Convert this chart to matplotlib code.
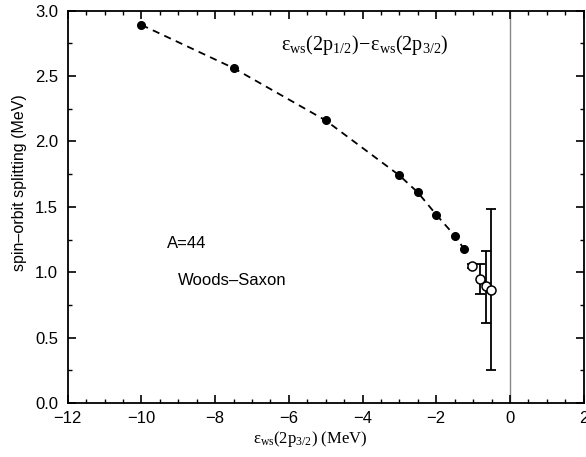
import matplotlib
matplotlib.use("Agg")
import matplotlib.pyplot as plt
from matplotlib.ticker import MultipleLocator, FormatStrFormatter

# single-particle energy of 2p3/2 (MeV) and the 2p spin-orbit splitting (MeV)
bound_e = [-10.0, -7.5, -5.0, -3.0, -2.5, -2.0, -1.5, -1.25]
bound_split = [2.89, 2.56, 2.16, 1.74, 1.61, 1.44, 1.28, 1.18]

# resonant states with widths shown as error bars
res_e = [-1.03, -0.81, -0.66, -0.52]
res_split = [1.05, 0.945, 0.895, 0.865]
res_err_lo = [0.02, 0.11, 0.285, 0.615]
res_err_hi = [0.01, 0.115, 0.265, 0.615]

plt.rcParams["font.family"] = ["Liberation Sans", "DejaVu Sans"]
plt.rcParams["mathtext.fontset"] = "custom"
plt.rcParams["mathtext.rm"] = "Liberation Serif"
plt.rcParams["mathtext.it"] = "Liberation Serif"

fig = plt.figure(figsize=(5.86, 4.57), dpi=100)
ax = fig.add_axes([0.1155, 0.118, 0.8805, 0.859])

ax.axvline(0, color="#888888", linewidth=1.0, zorder=1)

ax.plot(bound_e, bound_split, "k--", linewidth=1.3, dashes=(4, 3), zorder=2)
ax.plot(bound_e, bound_split, "o", color="black", markersize=5.5, zorder=3)

ax.errorbar(res_e, res_split, yerr=[res_err_lo, res_err_hi], fmt="none",
            ecolor="black", elinewidth=1.3, capsize=3.5, capthick=1.3, zorder=3)
ax.plot(res_e, res_split, "o", markerfacecolor="white", markeredgecolor="black",
        markersize=6.5, markeredgewidth=1.1, zorder=4)

ax.set_xlim(-12, 2)
ax.set_ylim(0, 3)
ax.xaxis.set_major_locator(MultipleLocator(2))
ax.xaxis.set_minor_locator(MultipleLocator(0.5))
ax.yaxis.set_major_locator(MultipleLocator(0.5))
ax.yaxis.set_minor_locator(MultipleLocator(0.25))
ax.yaxis.set_major_formatter(FormatStrFormatter("%.1f"))
ax.tick_params(which="both", direction="in", top=True, right=True, labelsize=12)
ax.tick_params(which="major", length=6, width=1.2)
ax.tick_params(which="minor", length=3, width=1.0)
ax.tick_params(axis="x", which="major", pad=6)
ax.tick_params(axis="y", which="major", pad=7)
for s in ax.spines.values():
    s.set_linewidth(1.3)

ax.set_ylabel("spin\u2013orbit splitting (MeV)", fontsize=11.5)
ax.yaxis.set_label_coords(-0.078, 0.562)
ax.set_xlabel(r"$\mathrm{\varepsilon_{ws}(2p_{3/2})\ (MeV)}$", fontsize=12)
ax.xaxis.set_label_coords(0.471, -0.066)

ax.text(-3.95, 2.74, r"$\mathrm{\varepsilon_{ws}(2p_{1/2})\!-\!\varepsilon_{ws}(2p_{3/2})}$",
        fontsize=14.5, ha="center", va="center")
ax.text(-9.3, 1.22, "A=44", fontsize=12, ha="left", va="center")
ax.text(-9.0, 0.94, "Woods\u2013Saxon", fontsize=12, ha="left", va="center")

fig.savefig("out.png", dpi=100)
